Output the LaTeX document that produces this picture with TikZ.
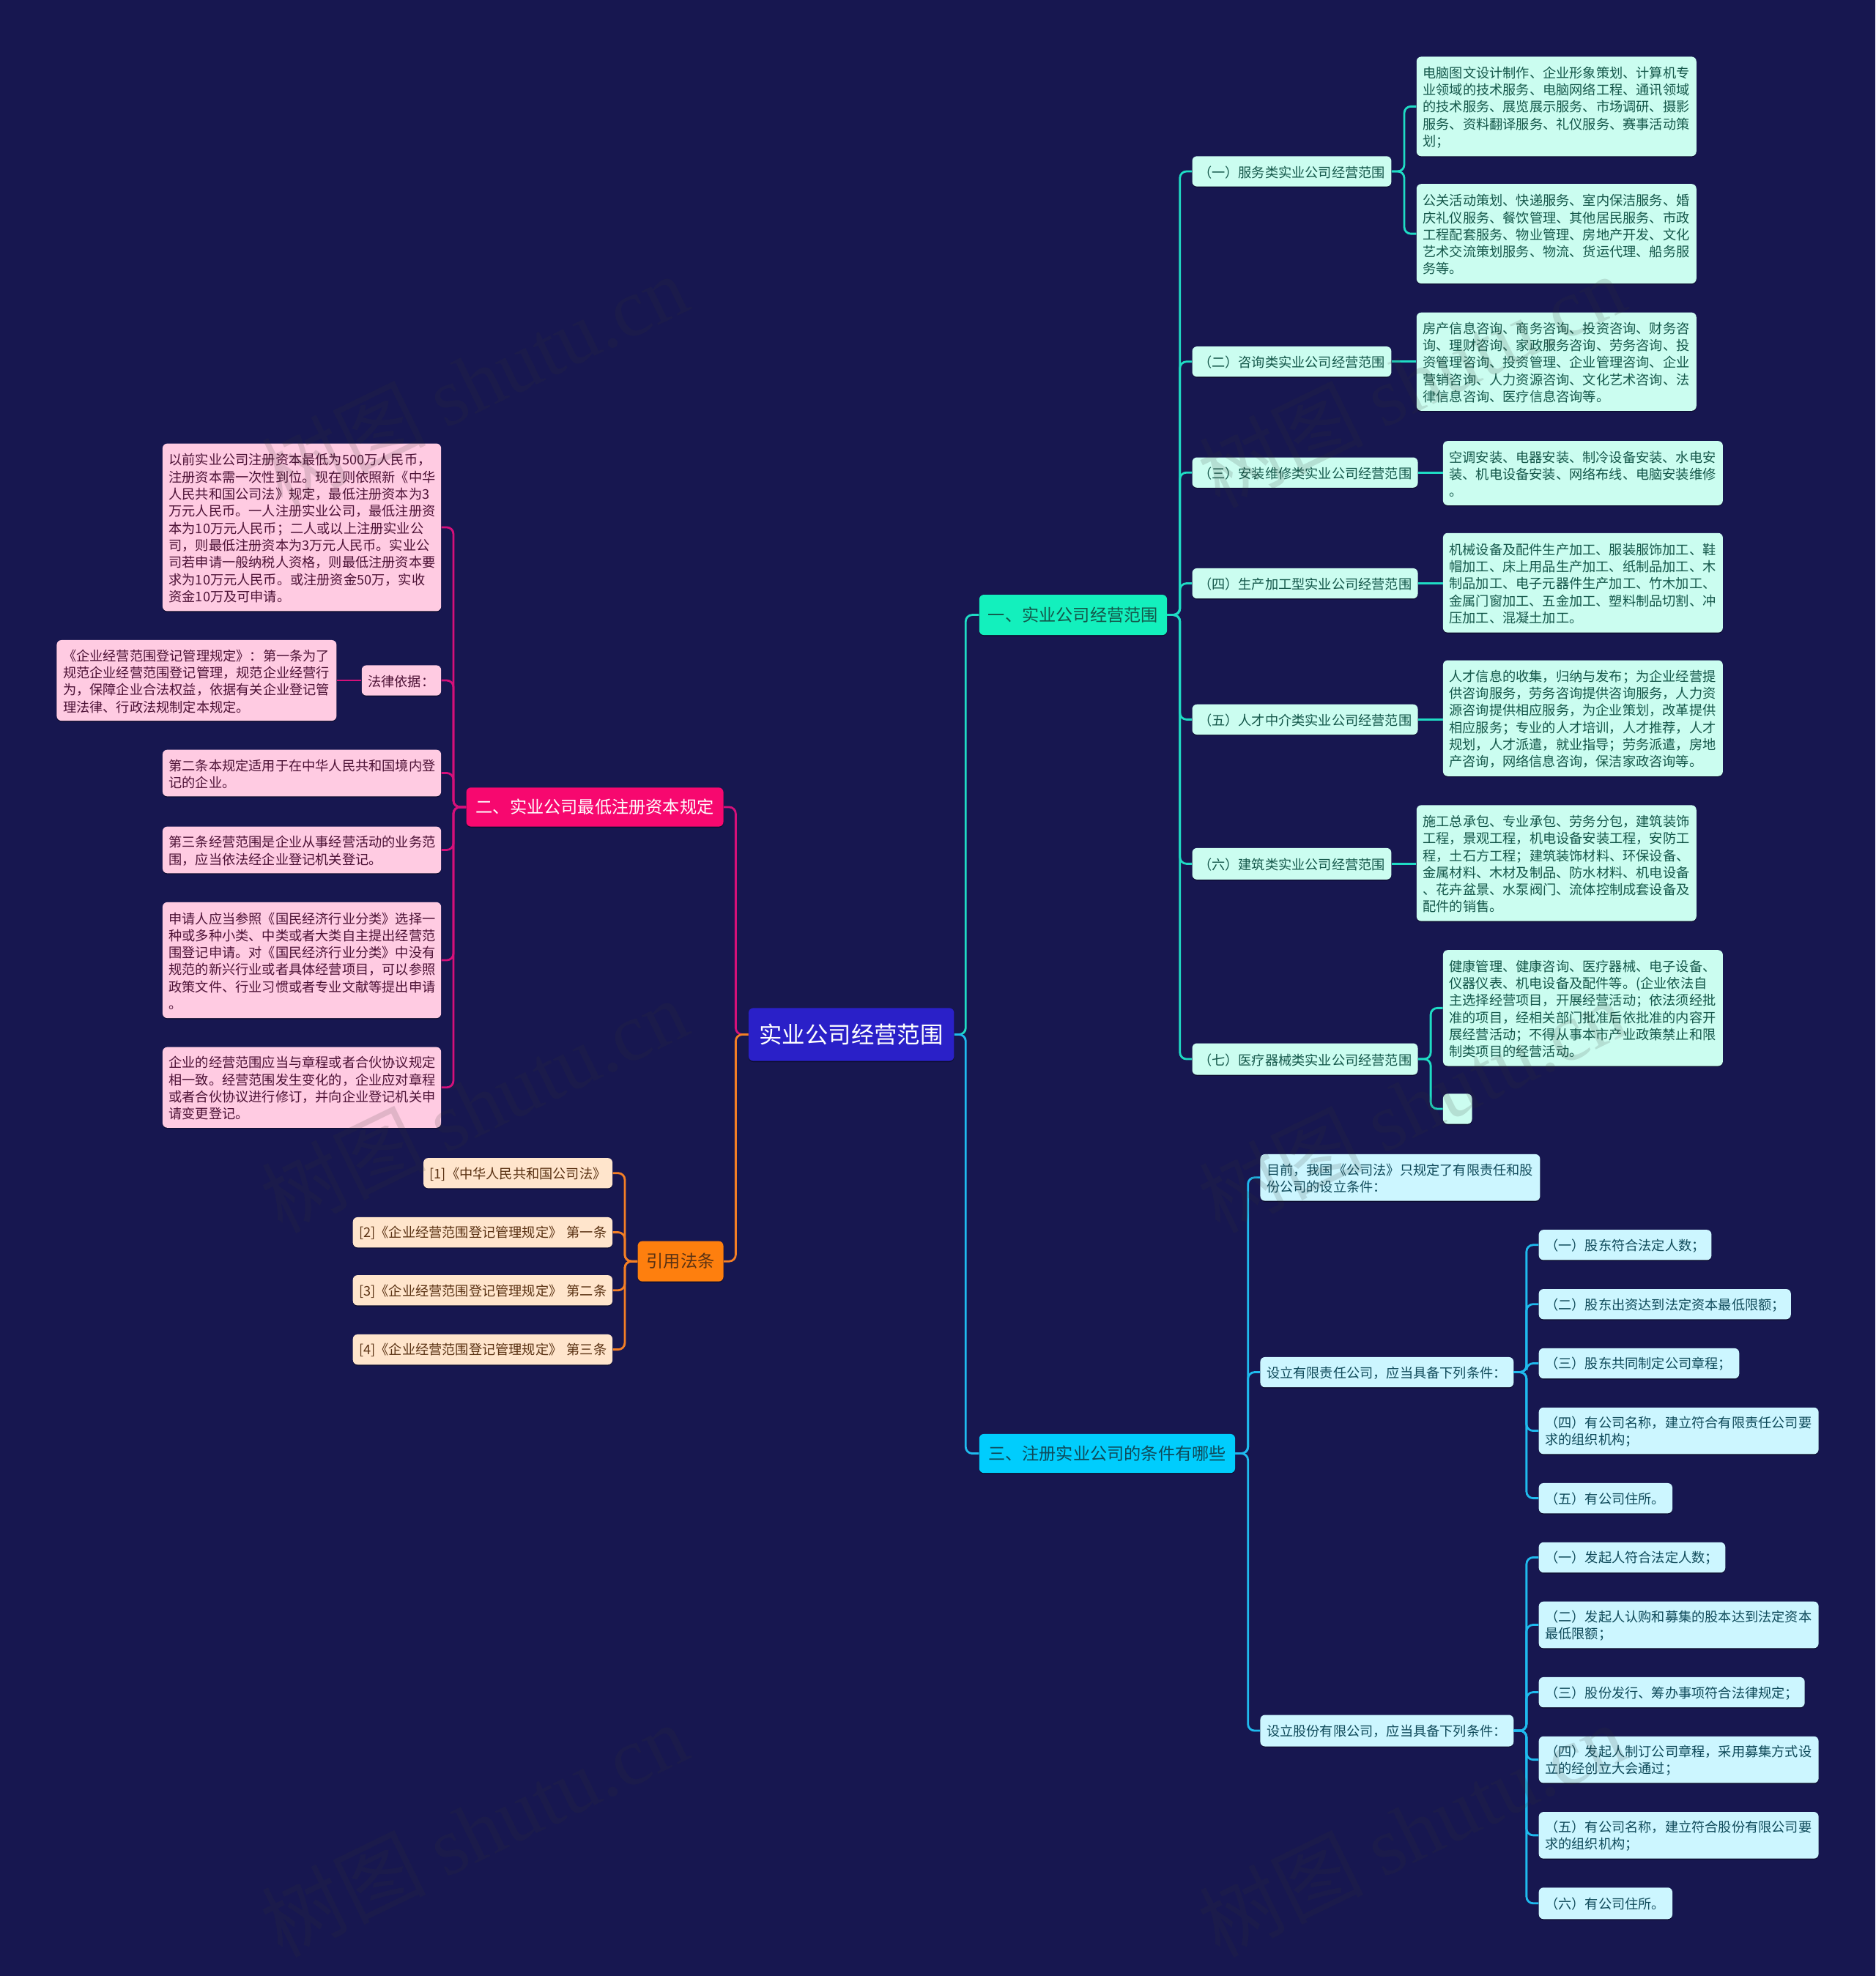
\documentclass[tikz,border=0pt]{standalone}
\usepackage{fontspec}
\setmainfont{Noto Sans CJK SC}
\newfontfamily\wmlatin{Liberation Serif}
\usetikzlibrary{shadows}
\definecolor{bgc}{HTML}{171750}
\definecolor{rootc}{HTML}{2A20C8}
\definecolor{mintb}{HTML}{13F0BD}\definecolor{mintl}{HTML}{CBFDF0}\definecolor{mintt}{HTML}{14574A}
\definecolor{pinkb}{HTML}{F7086F}\definecolor{pinkl}{HTML}{FFCBE2}\definecolor{pinkt}{HTML}{4D1236}
\definecolor{orab}{HTML}{FE7F0E}\definecolor{oral}{HTML}{FFE5CC}\definecolor{orat}{HTML}{5A3213}
\definecolor{cyab}{HTML}{00CDFD}\definecolor{cyal}{HTML}{CCF6FF}\definecolor{cyat}{HTML}{0F4A5A}
\definecolor{linem}{HTML}{1FDCC4}\definecolor{linep}{HTML}{D5107A}\definecolor{lineo}{HTML}{F47F25}\definecolor{linec}{HTML}{1FBBEE}
\definecolor{wmc}{HTML}{35352F}
\tikzset{
  x=0.8602pt,y=-0.8602pt,
  boxbase/.style={rounded corners=3.2pt,inner xsep=4.3pt,inner ysep=0pt,align=left,
    drop shadow={shadow xshift=0pt,shadow yshift=-0.7pt,fill=black,opacity=.4},
    font=\fontsize{9.1}{11.65}\selectfont},
  smallbox/.style={boxbase,execute at begin node={\rule{0pt}{8.9pt}}},
  mintbox/.style={smallbox,fill=mintl,text=mintt},
  pinkbox/.style={smallbox,fill=pinkl,text=pinkt},
  orabox/.style={smallbox,fill=oral,text=orat},
  cyabox/.style={smallbox,fill=cyal,text=cyat},
  bigbox/.style={boxbase,align=center,font=\fontsize{11.6}{14}\selectfont},
  rootbox/.style={boxbase,align=center,fill=rootc,text=white,font=\fontsize{15.7}{19}\selectfont},
  conn/.style={line width=1.4pt,rounded corners=4.5pt},
  mark wm/.style={rotate=26,text=wmc,opacity=.15,text opacity=.15,inner sep=0pt,font=\fontsize{56}{56}\selectfont}
}
\newcommand{\bx}[7]{%
  \pgfmathsetmacro\bw{(#4-#2)*0.8602}\pgfmathsetmacro\bh{(#5-#3)*0.8602}\pgfmathsetmacro\tw{\bw-8.6}%
  \node[#6,minimum width=\bw pt,minimum height=\bh pt,text width=\tw pt] (#1) at ({(#2+#4)/2},{(#3+#5)/2}) {#7};}
\newcommand{\conR}[4]{\draw[conn,#1] (#2.east) -- ++(#4,0) |- (#3.west);}
\newcommand{\conL}[4]{\draw[conn,#1] (#2.west) -- ++(-#4,0) |- (#3.east);}
\newcommand{\conSR}[3]{\draw[conn,#1] (#2.east) -- (#2.east -| #3.west);}
\newcommand{\conSL}[3]{\draw[conn,#1] (#2.west) -- (#2.west -| #3.east);}
\begin{document}
\begin{tikzpicture}
\useasboundingbox[fill=bgc] (0,0) rectangle (1488,1568.2);
\bx{root}{594}{800}{757}{842}{rootbox}{实业公司经营范围}
% branch one
\bx{bone}{777}{472}{926}{504}{bigbox,fill=mintb,text=mintt}{一、实业公司经营范围}
\bx{a1}{946}{124}{1104}{148}{mintbox}{（一）服务类实业公司经营范围}
\bx{a1x}{1124}{45}{1346}{124}{mintbox}{电脑图文设计制作、企业形象策划、计算机专\\业领域的技术服务、电脑网络工程、通讯领域\\的技术服务、展览展示服务、市场调研、摄影\\服务、资料翻译服务、礼仪服务、赛事活动策\\划；}
\bx{a1y}{1124}{146}{1346}{225}{mintbox}{公关活动策划、快递服务、室内保洁服务、婚\\庆礼仪服务、餐饮管理、其他居民服务、市政\\工程配套服务、物业管理、房地产开发、文化\\艺术交流策划服务、物流、货运代理、船务服\\务等。}
\bx{a2}{946}{275}{1104}{299}{mintbox}{（二）咨询类实业公司经营范围}
\bx{a2x}{1124}{248}{1346}{326}{mintbox}{房产信息咨询、商务咨询、投资咨询、财务咨\\询、理财咨询、家政服务咨询、劳务咨询、投\\资管理咨询、投资管理、企业管理咨询、企业\\营销咨询、人力资源咨询、文化艺术咨询、法\\律信息咨询、医疗信息咨询等。}
\bx{a3}{946}{363}{1125}{387}{mintbox}{（三）安装维修类实业公司经营范围}
\bx{a3x}{1145}{350}{1367}{401}{mintbox}{空调安装、电器安装、制冷设备安装、水电安\\装、机电设备安装、网络布线、电脑安装维修\\。}
\bx{a4}{946}{451}{1125}{475}{mintbox}{（四）生产加工型实业公司经营范围}
\bx{a4x}{1145}{423}{1367}{502}{mintbox}{机械设备及配件生产加工、服装服饰加工、鞋\\帽加工、床上用品生产加工、纸制品加工、木\\制品加工、电子元器件生产加工、竹木加工、\\金属门窗加工、五金加工、塑料制品切割、冲\\压加工、混凝土加工。}
\bx{a5}{946}{559}{1125}{583}{mintbox}{（五）人才中介类实业公司经营范围}
\bx{a5x}{1145}{524}{1367}{616}{mintbox}{人才信息的收集，归纳与发布；为企业经营提\\供咨询服务，劳务咨询提供咨询服务，人力资\\源咨询提供相应服务，为企业策划，改革提供\\相应服务；专业的人才培训，人才推荐，人才\\规划，人才派遣，就业指导；劳务派遣，房地\\产咨询，网络信息咨询，保洁家政咨询等。}
\bx{a6}{946}{673}{1104}{698}{mintbox}{（六）建筑类实业公司经营范围}
\bx{a6x}{1124}{639}{1346}{731}{mintbox}{施工总承包、专业承包、劳务分包，建筑装饰\\工程，景观工程，机电设备安装工程，安防工\\程，土石方工程；建筑装饰材料、环保设备、\\金属材料、木材及制品、防水材料、机电设备\\、花卉盆景、水泵阀门、流体控制成套设备及\\配件的销售。}
\bx{a7}{946}{828}{1125}{853}{mintbox}{（七）医疗器械类实业公司经营范围}
\bx{a7x}{1145}{754}{1367}{846}{mintbox}{健康管理、健康咨询、医疗器械、电子设备、\\仪器仪表、机电设备及配件等。(企业依法自\\主选择经营项目，开展经营活动；依法须经批\\准的项目，经相关部门批准后依批准的内容开\\展经营活动；不得从事本市产业政策禁止和限\\制类项目的经营活动。}
\bx{a7y}{1145}{868}{1168}{892}{mintbox}{}
% branch three
\bx{bthree}{777}{1138}{980}{1169}{bigbox,fill=cyab,text=cyat}{三、注册实业公司的条件有哪些}
\bx{c1}{1000}{916}{1222}{953}{cyabox}{目前，我国《公司法》只规定了有限责任和股\\份公司的设立条件：}
\bx{c2}{1000}{1077}{1201}{1101}{cyabox}{设立有限责任公司，应当具备下列条件：}
\bx{c3}{1000}{1361}{1201}{1386}{cyabox}{设立股份有限公司，应当具备下列条件：}
\bx{d1}{1221}{976}{1358}{1000}{cyabox}{（一）股东符合法定人数；}
\bx{d2}{1221}{1023}{1421}{1047}{cyabox}{（二）股东出资达到法定资本最低限额；}
\bx{d3}{1221}{1070}{1380}{1094}{cyabox}{（三）股东共同制定公司章程；}
\bx{d4}{1221}{1117}{1443}{1154}{cyabox}{（四）有公司名称，建立符合有限责任公司要\\求的组织机构；}
\bx{d5}{1221}{1177}{1327}{1201}{cyabox}{（五）有公司住所。}
\bx{e1}{1221}{1224}{1369}{1248}{cyabox}{（一）发起人符合法定人数；}
\bx{e2}{1221}{1271}{1443}{1308}{cyabox}{（二）发起人认购和募集的股本达到法定资本\\最低限额；}
\bx{e3}{1221}{1331}{1432}{1355}{cyabox}{（三）股份发行、筹办事项符合法律规定；}
\bx{e4}{1221}{1378}{1443}{1415}{cyabox}{（四）发起人制订公司章程，采用募集方式设\\立的经创立大会通过；}
\bx{e5}{1221}{1438}{1443}{1475}{cyabox}{（五）有公司名称，建立符合股份有限公司要\\求的组织机构；}
\bx{e6}{1221}{1498}{1327}{1523}{cyabox}{（六）有公司住所。}
% branch two
\bx{btwo}{370}{625}{574}{656}{bigbox,fill=pinkb,text=white}{二、实业公司最低注册资本规定}
\bx{p1}{129}{352}{350}{485}{pinkbox}{以前实业公司注册资本最低为500万人民币，\\注册资本需一次性到位。现在则依照新《中华\\人民共和国公司法》规定，最低注册资本为3\\万元人民币。一人注册实业公司，最低注册资\\本为10万元人民币；二人或以上注册实业公\\司，则最低注册资本为3万元人民币。实业公\\司若申请一般纳税人资格，则最低注册资本要\\求为10万元人民币。或注册资金50万，实收\\资金10万及可申请。}
\bx{p2}{287}{528}{350}{552}{pinkbox}{法律依据：}
\bx{p2x}{45}{508}{267}{572}{pinkbox}{《企业经营范围登记管理规定》：第一条为了\\规范企业经营范围登记管理，规范企业经营行\\为，保障企业合法权益，依据有关企业登记管\\理法律、行政法规制定本规定。}
\bx{p3}{129}{595}{350}{632}{pinkbox}{第二条本规定适用于在中华人民共和国境内登\\记的企业。}
\bx{p4}{129}{656}{350}{693}{pinkbox}{第三条经营范围是企业从事经营活动的业务范\\围，应当依法经企业登记机关登记。}
\bx{p5}{129}{716}{350}{808}{pinkbox}{申请人应当参照《国民经济行业分类》选择一\\种或多种小类、中类或者大类自主提出经营范\\围登记申请。对《国民经济行业分类》中没有\\规范的新兴行业或者具体经营项目，可以参照\\政策文件、行业习惯或者专业文献等提出申请\\。}
\bx{p6}{129}{831}{350}{895}{pinkbox}{企业的经营范围应当与章程或者合伙协议规定\\相一致。经营范围发生变化的，企业应对章程\\或者合伙协议进行修订，并向企业登记机关申\\请变更登记。}
% citations
\bx{bref}{506}{985}{574}{1017}{bigbox,fill=orab,text=orat}{引用法条}
\bx{r1}{336}{919}{486}{943}{orabox}{\mbox{[1]《中华人民共和国公司法》}}
\bx{r2}{280}{966}{486}{990}{orabox}{\mbox{[2]《企业经营范围登记管理规定》 第一条}}
\bx{r3}{280}{1012}{486}{1036}{orabox}{\mbox{[3]《企业经营范围登记管理规定》 第二条}}
\bx{r4}{280}{1059}{486}{1083}{orabox}{\mbox{[4]《企业经营范围登记管理规定》 第三条}}
% connectors
\conR{linem}{root}{bone}{9}
\conR{linec}{root}{bthree}{9}
\conL{linep}{root}{btwo}{10}
\conL{lineo}{root}{bref}{10}
\foreach \k in {a1,a2,a3,a4,a5,a6,a7}{\conR{linem}{bone}{\k}{10}}
\conR{linem}{a1}{a1x}{10}\conR{linem}{a1}{a1y}{10}
\conSR{linem}{a2}{a2x}\conSR{linem}{a3}{a3x}\conSR{linem}{a4}{a4x}
\conSR{linem}{a5}{a5x}\conSR{linem}{a6}{a6x}
\conR{linem}{a7}{a7x}{10}\conR{linem}{a7}{a7y}{10}
\foreach \k in {c1,c2,c3}{\conR{linec}{bthree}{\k}{10}}
\foreach \k in {d1,d2,d3,d4,d5}{\conR{linec}{c2}{\k}{10}}
\foreach \k in {e1,e2,e3,e4,e5,e6}{\conR{linec}{c3}{\k}{10}}
\foreach \k in {p1,p2,p3,p4,p5,p6}{\conL{linep}{btwo}{\k}{10}}
\conSL{linep}{p2}{p2x}
\foreach \k in {r1,r2,r3,r4}{\conL{lineo}{bref}{\k}{10}}
% watermarks
\foreach \px/\py [count=\i] in {376/302,1120/302,376/877,1120/877,376/1452,1120/1452}{
  \node[mark wm] (wm\i) at (\px,\py) {树图 {\wmlatin shutu.cn}};
}
\end{tikzpicture}
\end{document}
